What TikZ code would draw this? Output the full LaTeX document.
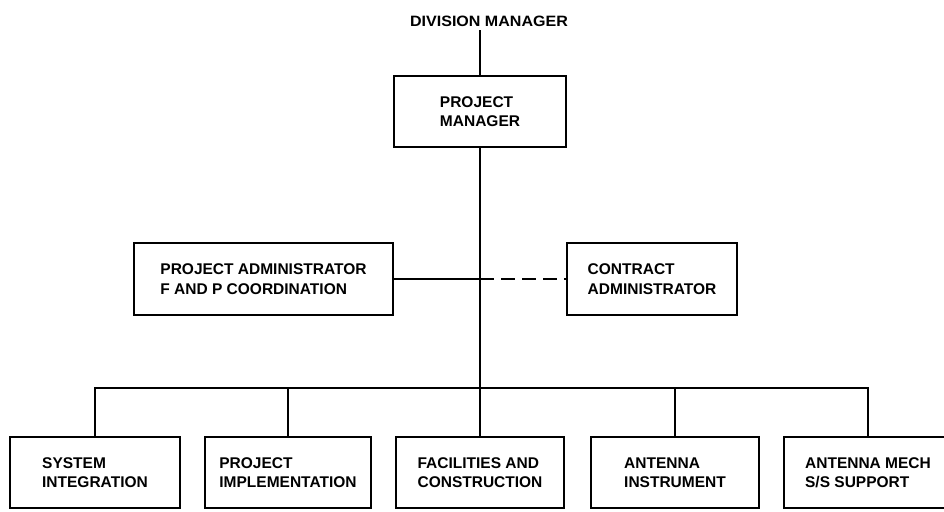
\documentclass[tikz,border=0pt]{standalone}
\usepackage{fontspec}
\setmainfont{Liberation Sans}
\newfontfamily\orgfont{Liberation Sans}
\newfontfamily\orgwide{Liberation Sans}[FakeStretch=1.07]

\begin{document}
\begin{tikzpicture}[x=1pt,y=-1pt,unit/.style={shape=rectangle,draw=black,line width=1.8pt,minimum height=71pt,inner sep=0pt,align=left,font=\orgfont\bfseries\fontsize{15.5}{19.5}\selectfont},link/.style={line width=1.5pt},dlink/.style={link,dash pattern=on 14pt off 7pt}]
\def\bus{388};
\def\row{472.5};
\def\mid{279};

\useasboundingbox (0,0) rectangle (944,511);
\clip (0,0) rectangle (944,511);

\node[font=\orgwide\bfseries\fontsize{15}{18}\selectfont] (DM) at (489,21) {DIVISION MANAGER};
\node[unit,minimum width=172pt] (PM) at (480,111.5) {PROJECT\\MANAGER};
\draw[link] (PM.north) -- (PM.north |- DM.south);

\node[unit,minimum width=259pt,minimum height=72pt] (PA) at (263.5,\mid) {PROJECT ADMINISTRATOR\\F AND P COORDINATION};
\node[unit,minimum width=170pt,minimum height=72pt] (CA) at (652,\mid) {CONTRACT\\ADMINISTRATOR};

\node[unit,minimum width=170pt] (SI) at (95,\row) {SYSTEM\\INTEGRATION};
\node[unit,minimum width=166pt] (PI) at (288,\row) {PROJECT\\IMPLEMENTATION};
\node[unit,minimum width=168pt] (FC) at (480,\row) {FACILITIES AND\\CONSTRUCTION};
\node[unit,minimum width=168pt] (AI) at (675,\row) {ANTENNA\\INSTRUMENT};
\node[unit,minimum width=168pt] (AM) at (868,\row) {ANTENNA MECH\\S/S SUPPORT};

\coordinate (T) at (480,\bus);
\draw[link] (PM.south) -- (FC.north);
\draw[link] (PA.east) -- (PA.east -| PM.south);
\draw[dlink] (PA.east -| PM.south) -- (CA.west);
\draw[link] (SI.north) -- (SI.north |- T) -- (AM.north |- T) -- (AM.north);
\draw[link] (PI.north) -- (PI.north |- T);
\draw[link] (AI.north) -- (AI.north |- T);
\end{tikzpicture}
\end{document}
